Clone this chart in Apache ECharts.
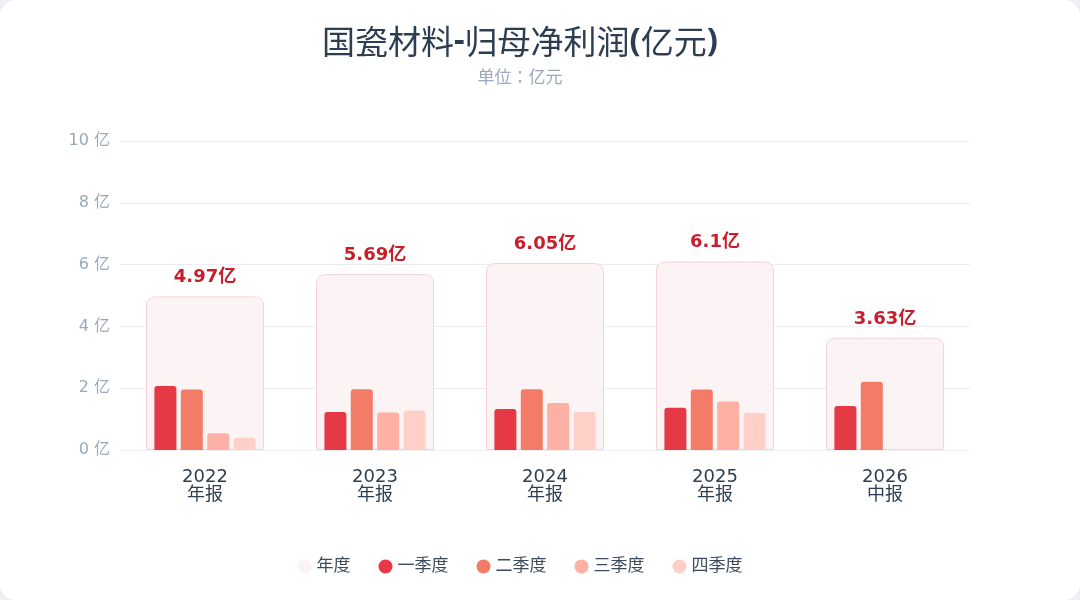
<!DOCTYPE html>
<html>
<head>
<meta charset="utf-8">
<script src="https://cdn.jsdelivr.net/npm/echarts@6/dist/echarts.min.js"></script>
<style>
html, body { margin: 0; padding: 0; background: #eef0f3; }
#card { width: 1080px; height: 600px; background: #fff; border-radius: 16px; overflow: hidden; }
#chart { width: 1040px; height: 600px; }
</style>
</head>
<body>
<div id="card"><div id="chart"></div></div>
<script>
var years = ['2022', '2023', '2024', '2025', '2026'];
var reportTypes = ['年报', '年报', '年报', '年报', '中报'];
var annual = [4.97, 5.69, 6.05, 6.1, 3.63];
var q1 = [2.07, 1.23, 1.33, 1.37, 1.42];
var q2 = [1.96, 1.97, 1.97, 1.96, 2.21];
var q3 = [0.54, 1.21, 1.52, 1.57, null];
var q4 = [0.40, 1.28, 1.23, 1.20, null];

var quarterNames = ['一季度', '二季度', '三季度', '四季度'];
var quarterColors = ['#e63946', '#f27c68', '#fdb0a3', '#fed0c8'];
var quarterData = [q1, q2, q3, q4];

var categories = [];
for (var i = 0; i < years.length; i++) {
	categories.push(years[i] + '\n' + reportTypes[i]);
}

var chart = echarts.init(document.getElementById('chart'));

var series = [{
	name: '年度',
	type: 'bar',
	xAxisIndex: 1,
	data: annual,
	barWidth: 118,
	z: 1,
	itemStyle: {
		color: '#fcf3f4',
		borderColor: '#f5d3d8',
		borderWidth: 1,
		borderRadius: [8, 8, 0, 0]
	},
	label: {
		show: true,
		position: 'top',
		distance: 10,
		formatter: function(p) { return p.value + '亿'; },
		color: '#c81e2c',
		fontSize: 18,
		fontWeight: 'bold'
	},
	emphasis: { disabled: true }
}];

for (var k = 0; k < 4; k++) {
	series.push({
		name: quarterNames[k],
		type: 'bar',
		xAxisIndex: 0,
		data: quarterData[k],
		barWidth: 22,
		barGap: '20%',
		z: 3,
		itemStyle: {
			color: quarterColors[k],
			borderRadius: [3, 3, 0, 0]
		}
	});
}

var legendData = [{ name: '年度', itemStyle: { borderWidth: 0, color: '#fcf3f4' } }];
for (var m = 0; m < quarterNames.length; m++) {
	legendData.push(quarterNames[m]);
}

// 标题里的符号用粗体
var titleCjk = { color: '#2d3e53', fontSize: 33, fontWeight: 'normal', fontFamily: '"Noto Sans CJK JP", sans-serif' };
var titlePunct = { color: '#2d3e53', fontSize: 33, fontWeight: 'bold', fontFamily: '"Noto Sans", sans-serif' };

var option = {
	textStyle: { fontFamily: '"DejaVu Sans", "Noto Sans CJK SC", sans-serif' },
	title: {
		text: '{a|国瓷材料}{b|-}{a|归母净利润}{b|(}{a|亿元}{b|)}',
		subtext: '单位：亿元',
		left: 'center',
		top: 20,
		itemGap: 10,
		textStyle: {
			color: '#2d3e53',
			fontSize: 33,
			fontWeight: 'normal',
			rich: { a: titleCjk, b: titlePunct }
		},
		subtextStyle: { color: '#9aa8bd', fontSize: 17, fontFamily: '"Noto Sans CJK JP", sans-serif' }
	},
	legend: {
		bottom: 20,
		left: 'center',
		icon: 'circle',
		itemWidth: 14,
		itemHeight: 14,
		itemGap: 28,
		textStyle: { color: '#3d4a5c', fontSize: 17 },
		data: legendData
	},
	grid: { left: 120, right: 70, top: 141, bottom: 150 },
	xAxis: [{
		type: 'category',
		data: categories,
		axisTick: { show: false },
		axisLine: { lineStyle: { color: '#eef0f4' } },
		axisLabel: { color: '#2d3e53', fontSize: 18, lineHeight: 18, margin: 18 }
	}, {
		type: 'category',
		data: categories,
		show: false
	}],
	yAxis: {
		type: 'value',
		min: 0,
		max: 10,
		interval: 2,
		axisLine: { show: false },
		axisTick: { show: false },
		splitLine: { lineStyle: { color: '#ebedf2' } },
		axisLabel: {
			color: '#9aa8bd',
			fontSize: 16,
			margin: 10,
			formatter: function(v) { return v + ' 亿'; }
		}
	},
	series: series
};

chart.setOption(option);
</script>
</body>
</html>
